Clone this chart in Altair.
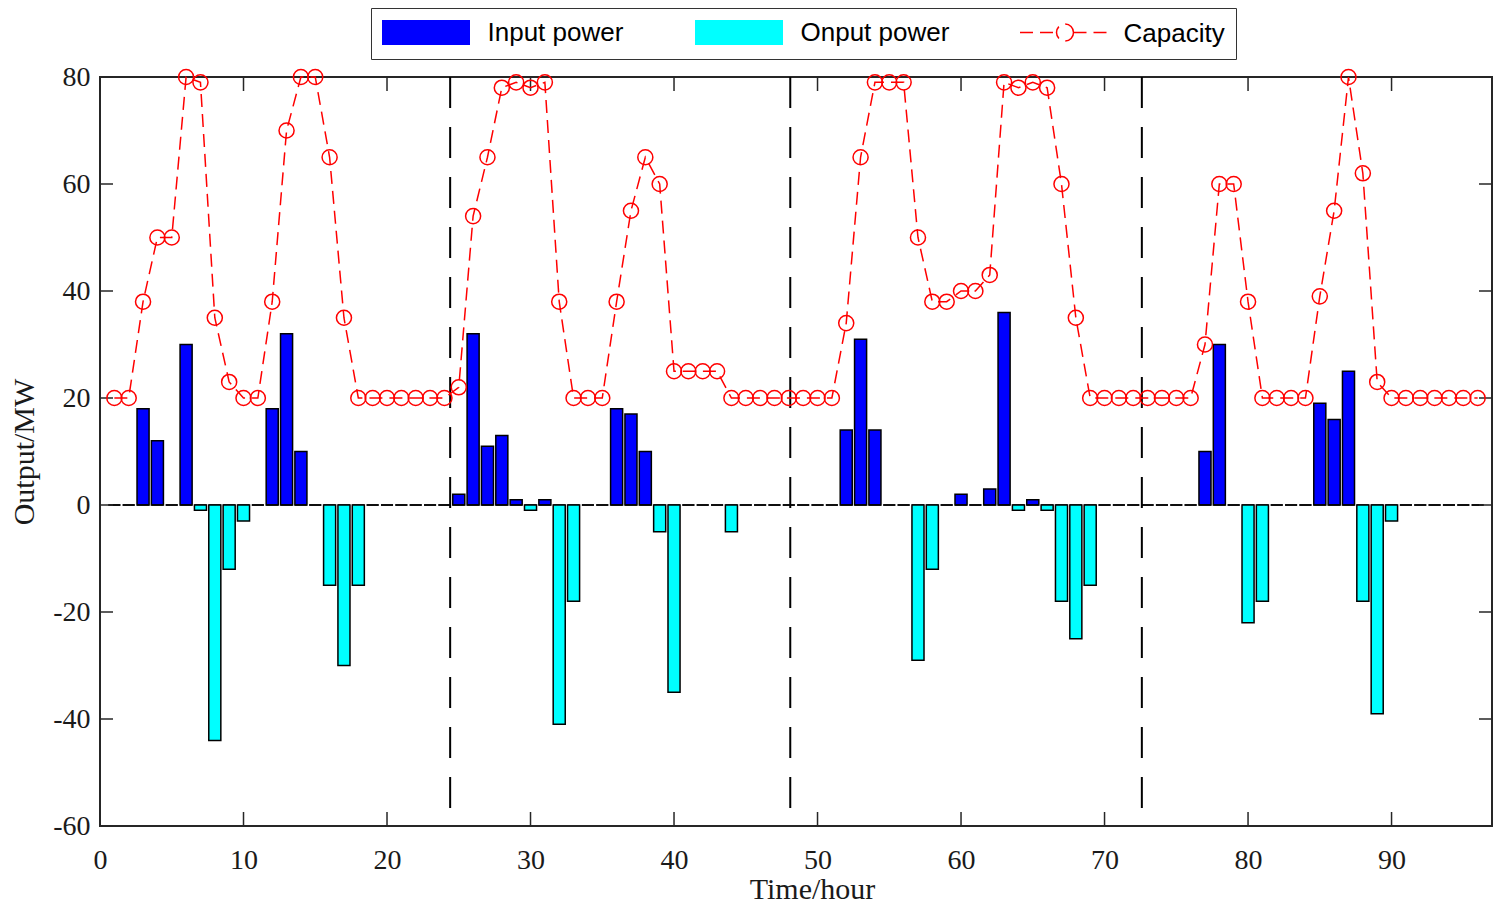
import altair as alt
import pandas as pd

# ---------------- data ----------------
HOURS = list(range(1, 97))

INPUT_POWER = (
    [0, 0, 18, 12, 0, 30, 0, 0, 0, 0, 0, 18, 32, 10, 0, 0, 0, 0, 0, 0, 0, 0, 0, 0]
    + [2, 32, 11, 13, 1, 0, 1, 0, 0, 0, 0, 18, 17, 10, 0, 0, 0, 0, 0, 0, 0, 0, 0, 0]
    + [0, 0, 0, 14, 31, 14, 0, 0, 0, 0, 0, 2, 0, 3, 36, 0, 1, 0, 0, 0, 0, 0, 0, 0]
    + [0, 0, 0, 0, 10, 30, 0, 0, 0, 0, 0, 0, 19, 16, 25, 0, 0, 0, 0, 0, 0, 0, 0, 0]
)

OUTPUT_POWER = (
    [0, 0, 0, 0, 0, 0, -1, -44, -12, -3, 0, 0, 0, 0, 0, -15, -30, -15, 0, 0, 0, 0, 0, 0]
    + [0, 0, 0, 0, 0, -1, 0, -41, -18, 0, 0, 0, 0, 0, -5, -35, 0, 0, 0, -5, 0, 0, 0, 0]
    + [0, 0, 0, 0, 0, 0, 0, 0, -29, -12, 0, 0, 0, 0, 0, -1, 0, -1, -18, -25, -15, 0, 0, 0]
    + [0, 0, 0, 0, 0, 0, 0, -22, -18, 0, 0, 0, 0, 0, 0, -18, -39, -3, 0, 0, 0, 0, 0, 0]
)

CAPACITY = (
    [20, 20, 38, 50, 50, 80, 79, 35, 23, 20, 20, 38, 70, 80, 80, 65, 35, 20, 20, 20, 20, 20, 20, 20]
    + [22, 54, 65, 78, 79, 78, 79, 38, 20, 20, 20, 38, 55, 65, 60, 25, 25, 25, 25, 20, 20, 20, 20, 20]
    + [20, 20, 20, 34, 65, 79, 79, 79, 50, 38, 38, 40, 40, 43, 79, 78, 79, 78, 60, 35, 20, 20, 20, 20]
    + [20, 20, 20, 20, 30, 60, 60, 38, 20, 20, 20, 20, 39, 55, 80, 62, 23, 20, 20, 20, 20, 20, 20, 20]
)

DAY_SPLITS = [24.4, 48.1, 72.6]
X_TICKS = [0, 10, 20, 30, 40, 50, 60, 70, 80, 90]
Y_TICKS = [-60, -40, -20, 0, 20, 40, 60, 80]
SERIES = ["Input power", "Onput power", "Capacity"]
COLORS = ["#0000FF", "#00FFFF", "#FF0000"]
CAP_DASH = [13, 7]

# ---------------- layout ----------------
W, H = 1392, 749
SERIF = "Liberation Serif"
SANS = "Liberation Sans"
INK = "#1a1a1a"

bars_df = pd.DataFrame({
    "t": HOURS + HOURS,
    "value": INPUT_POWER + OUTPUT_POWER,
    "series": [SERIES[0]] * len(HOURS) + [SERIES[1]] * len(HOURS),
})
cap_df = pd.DataFrame({"t": HOURS, "cap": CAPACITY, "series": [SERIES[2]] * len(HOURS)})
xt_df = pd.DataFrame({"v": X_TICKS})
yt_df = pd.DataFrame({"v": Y_TICKS})
split_df = pd.DataFrame({"d": DAY_SPLITS})

xscale = alt.Scale(domain=[0, 97], nice=False, zero=False)
yscale = alt.Scale(domain=[-60, 80], nice=False, zero=False)

XAXIS = alt.Axis(
    title="Time/hour", values=X_TICKS, ticks=False, tickSize=0, domain=False, grid=False,
    labelFont=SERIF, labelFontSize=28, labelPadding=20, labelColor=INK,
    labelFlush=False, titleFont=SERIF, titleFontSize=30, titleFontWeight="normal",
    titleColor=INK, titleX=712, titleY=72, titleBaseline="alphabetic",
)
YAXIS = alt.Axis(
    title="Output/MW", values=Y_TICKS, ticks=False, tickSize=0, domain=False, grid=False,
    labelFont=SERIF, labelFontSize=28, labelPadding=10, labelColor=INK, labelFlush=False,
    labelExpr="'' + datum.value",
    titleFont=SERIF, titleFontSize=30, titleFontWeight="normal", titleColor=INK,
    titleX=-76, titleY=H / 2, titleAngle=270, titleBaseline="middle",
)

# legend symbol paths, scaled by sqrt(symbolSize)/2 = 12.5 px per unit
RECT_PATH = "M-3.52,-1L3.52,-1L3.52,1L-3.52,1Z"
CAP_PATH = ("M-3.6,0L-0.68,0M0.68,0L3.6,0"
            "M0.68,0A0.68,0.68,0,1,1,-0.68,0A0.68,0.68,0,1,1,0.68,0")

LEG_X, LEG_Y = 271, -69

# main boxed legend (bars); the Capacity swatch is hidden via opacity
LEGEND = alt.Legend(
    title=None, orient="none", legendX=LEG_X, legendY=LEG_Y, direction="horizontal",
    symbolType=RECT_PATH, symbolSize=625, symbolStrokeWidth=1.5, symbolStrokeColor="black",
    symbolOffset=30.5, labelOffset=48, labelFont=SANS, labelFontSize=26, labelColor="black",
    labelLimit=400, columnPadding=68, padding=11, strokeColor="#333333", zindex=0,
)
# overlay legend that draws the Capacity symbol (line + circle) in the third slot
LEGEND_CAP = alt.Legend(
    title=None, orient="none", legendX=921, legendY=LEG_Y + 11, direction="horizontal",
    symbolType=CAP_PATH, symbolSize=625, symbolStrokeWidth=1.5, symbolStrokeColor=COLORS[2],
    symbolFillColor="transparent", symbolOffset=30.5, labelOffset=48, labelFont=SANS,
    labelFontSize=26, labelOpacity=0, padding=0, zindex=1,
)

bars = alt.Chart(bars_df).transform_calculate(
    x0="datum.t - 0.42", x1="datum.t + 0.42", zero="0"
).mark_bar(stroke="black", strokeWidth=1.5).encode(
    x=alt.X("x0:Q", scale=xscale, axis=XAXIS),
    x2="x1:Q",
    y=alt.Y("zero:Q", scale=yscale, axis=YAXIS),
    y2="value:Q",
    color=alt.Color("series:N", scale=alt.Scale(domain=SERIES, range=[COLORS[0], COLORS[1], "transparent"]),
                    legend=LEGEND),
    opacity=alt.Opacity("series:N", scale=alt.Scale(type="ordinal", domain=SERIES, range=[1, 1, 0]),
                        legend=LEGEND),
)

splits = alt.Chart(split_df).mark_rule(color="black", strokeWidth=2, strokeDash=[31, 19]).encode(
    x=alt.X("d:Q", scale=xscale, axis=XAXIS), y=alt.value(0), y2=alt.value(H)
)

cap_line = alt.Chart(cap_df).mark_line(color=COLORS[2], strokeWidth=1.5).encode(
    x=alt.X("t:Q", scale=xscale, axis=XAXIS),
    y=alt.Y("cap:Q", scale=yscale, axis=YAXIS),
    strokeDash=alt.StrokeDash("series:N", scale=alt.Scale(domain=[SERIES[2]], range=[CAP_DASH]),
                              legend=LEGEND_CAP),
)
cap_pts = alt.Chart(cap_df).mark_point(
    shape="circle", filled=False, size=227, color=COLORS[2], strokeWidth=1.5, opacity=1
).encode(
    x=alt.X("t:Q", scale=xscale, axis=XAXIS), y=alt.Y("cap:Q", scale=yscale, axis=YAXIS)
)

TICK = dict(color="#262626", strokeWidth=1.5)
ticks_top = alt.Chart(xt_df).mark_rule(**TICK).encode(
    x=alt.X("v:Q", scale=xscale, axis=XAXIS), y=alt.value(0), y2=alt.value(14))
ticks_bottom = alt.Chart(xt_df).mark_rule(**TICK).encode(
    x=alt.X("v:Q", scale=xscale, axis=XAXIS), y=alt.value(H), y2=alt.value(H - 14))
ticks_left = alt.Chart(yt_df).mark_rule(**TICK).encode(
    y=alt.Y("v:Q", scale=yscale, axis=YAXIS), x=alt.value(0), x2=alt.value(13))
ticks_right = alt.Chart(yt_df).mark_rule(**TICK).encode(
    y=alt.Y("v:Q", scale=yscale, axis=YAXIS), x=alt.value(W), x2=alt.value(W - 13))

chart = alt.layer(
    bars, splits, ticks_top, ticks_bottom, ticks_left, ticks_right, cap_line, cap_pts
).properties(
    width=W, height=H,
    padding={"left": 92, "top": 69, "right": 2, "bottom": 80},
    autosize=alt.AutoSizeParams(type="none"),
    background="white",
).configure_view(stroke="#262626", strokeWidth=2)

chart.save("out.html", embed_options={"renderer": "svg", "actions": False})
